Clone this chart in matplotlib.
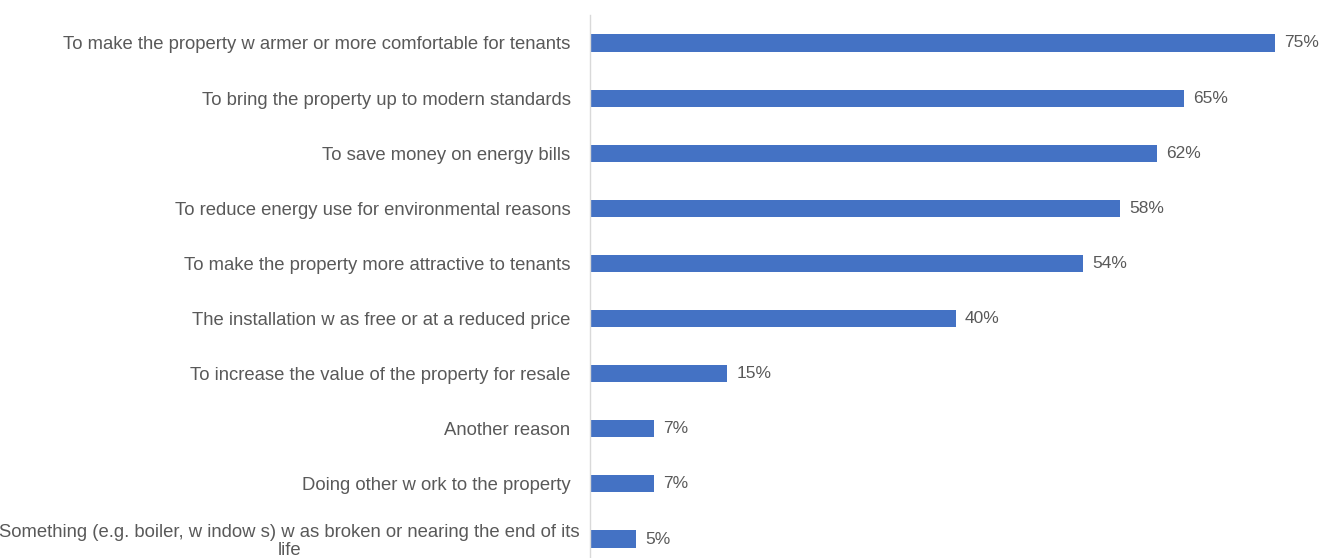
import matplotlib.pyplot as plt
import matplotlib.transforms as mtransforms

# survey categories, top to bottom
categories = [
    "To make the property w armer or more comfortable for tenants",
    "To bring the property up to modern standards",
    "To save money on energy bills",
    "To reduce energy use for environmental reasons",
    "To make the property more attractive to tenants",
    "The installation w as free or at a reduced price",
    "To increase the value of the property for resale",
    "Another reason",
    "Doing other w ork to the property",
    "Something (e.g. boiler, w indow s) w as broken or nearing the end of its\nlife",
]
values = [75, 65, 62, 58, 54, 40, 15, 7, 7, 5]

BAR_COLOR = "#4472C4"
TEXT_COLOR = "#595959"

plt.rcParams['font.family'] = ['Liberation Sans', 'DejaVu Sans']

fig = plt.figure(figsize=(13.21, 5.58), dpi=100)
ax = fig.add_axes([590 / 1321, -0.0154, 731 / 1321, 0.9878])

y = list(range(len(categories)))
ax.barh(y, values, height=0.31, color=BAR_COLOR)

for yi, v in zip(y, values):
    ax.text(v + 1.0, yi, f"{v}%", va="center", ha="left",
            fontsize=12.5, color=TEXT_COLOR)

ax.set_yticks(y)
ax.set_yticklabels(categories, fontsize=13.3, color=TEXT_COLOR,
                   multialignment="center", linespacing=1.05)
ax.set_ylim(len(categories) - 0.5, -0.5)
ax.set_xlim(0, 80)

ax.tick_params(axis="y", length=0, pad=14)
ax.set_xticks([])
for side in ["top", "right", "bottom"]:
    ax.spines[side].set_visible(False)
ax.spines["left"].set_color("#d9d9d9")
ax.spines["left"].set_linewidth(1)

# the wrapped label sits closer to the axis line
last = ax.get_yticklabels()[-1]
shift = mtransforms.ScaledTranslation(9 / 100, 0, fig.dpi_scale_trans)
last.set_transform(last.get_transform() + shift)

fig.savefig("out.png", dpi=100)
